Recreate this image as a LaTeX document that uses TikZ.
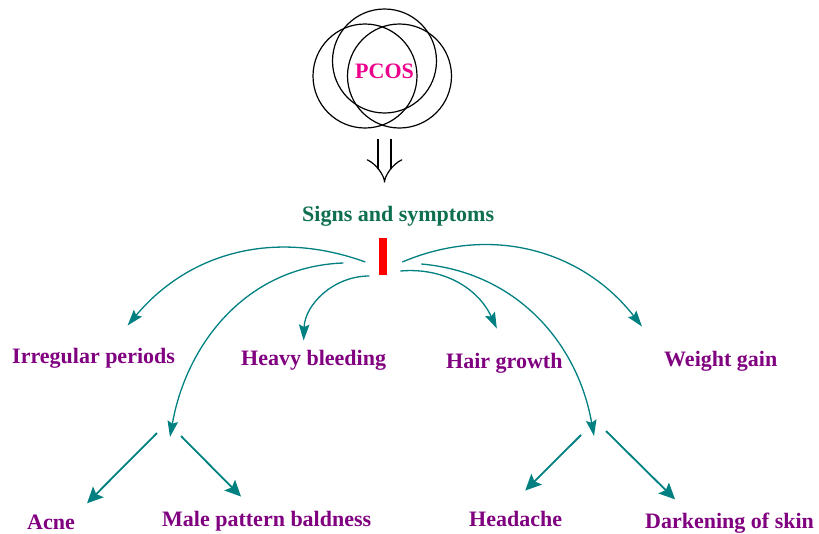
\documentclass[tikz,border=0pt]{standalone}
\usepackage{fontspec}
\setmainfont{Liberation Serif}
\usepackage{tikz}
\usetikzlibrary{arrows.meta}

\definecolor{symTeal}{RGB}{0,128,128}
\definecolor{symPurple}{RGB}{128,0,128}
\definecolor{symGreen}{RGB}{14,110,80}

\begin{document}
\begin{tikzpicture}[
  x=1pt, y=-1pt,
  ring/.style={draw, circle, line width=1.2pt, minimum size=104pt, inner sep=0pt},
  title/.style={anchor=base west, inner sep=0pt, font=\fontsize{22}{26}\selectfont\bfseries},
  symptom/.style={title, text=symPurple},
  curveArrow/.style={-{Stealth[length=16pt,width=10.5pt,inset=2.5pt]}, color=symTeal, line width=1.3pt},
  lineArrow/.style={-{Stealth[length=16pt,width=15pt,inset=3pt]}, color=symTeal, line width=1.8pt},
  implies/.style={double, double distance=11.8pt, line width=1.2pt, -{Implies}}
]
\useasboundingbox (0,0) rectangle (819,533);

% PCOS rings
\node[ring] (ringT) at (384.5,61) {};
\node[ring] (ringL) at (365,76) {};
\node[ring] (ringR) at (399.5,76) {};
\node[title, text=magenta] (pcos) at (355,78) {PCOS};

\node[title, text=symGreen] (signs) at (302,221) {Signs and symptoms};
\node[fill=red, minimum width=8pt, minimum height=37pt, inner sep=0pt] (bar) at (383.3,256) {};

\draw[implies, shorten <=61pt, shorten >=23pt] (pcos.south) -- (pcos.south |- signs.north);

% symptoms
\node[symptom] (irregular) at (12,363) {Irregular periods};
\node[symptom] (bleeding) at (241,365) {Heavy bleeding};
\node[symptom] (hair) at (446,368) {Hair growth};
\node[symptom] (weight) at (664,366) {Weight gain};
\node[symptom] (acne) at (27,529) {Acne};
\node[symptom] (baldness) at (162,526) {Male pattern baldness};
\node[symptom] (headache) at (469,526) {Headache};
\node[symptom] (darkening) at (645,528) {Darkening of skin};

\coordinate (lsplit) at (168,422);
\coordinate (rsplit) at (595,421);

\draw[curveArrow] ([shift={(-18,6)}]bar.center) to[out=160, in=50] ([shift={(34,-22)}]irregular.north);
\draw[curveArrow] ([shift={(-40,7)}]bar.center) to[out=182, in=80] ([shift={(2,15)}]lsplit);
\draw[curveArrow] ([shift={(-14,20)}]bar.center) to[out=180, in=88] ([shift={(-10,-9)}]bleeding.north);
\draw[curveArrow] ([shift={(17,15)}]bar.center) to[out=5, in=115] ([shift={(-7.5,-24)}]hair.north);
\draw[curveArrow] ([shift={(19,6)}]bar.center) to[out=23, in=128] ([shift={(-22,-24)}]weight.north west);
\draw[curveArrow] ([shift={(38,8)}]bar.center) to[out=-5, in=100] ([shift={(-1,15)}]rsplit);

\draw[lineArrow] ([shift={(-11,11)}]lsplit) -- ([shift={(12,-11)}]acne.north east);
\draw[lineArrow] ([shift={(13,14)}]lsplit) -- ([shift={(79,-14)}]baldness.north west);
\draw[lineArrow] ([shift={(-14,14)}]rsplit) -- ([shift={(-37,-20)}]headache.north east);
\draw[lineArrow] ([shift={(11,10)}]rsplit) -- ([shift={(30,-13)}]darkening.north west);
\end{tikzpicture}
\end{document}
